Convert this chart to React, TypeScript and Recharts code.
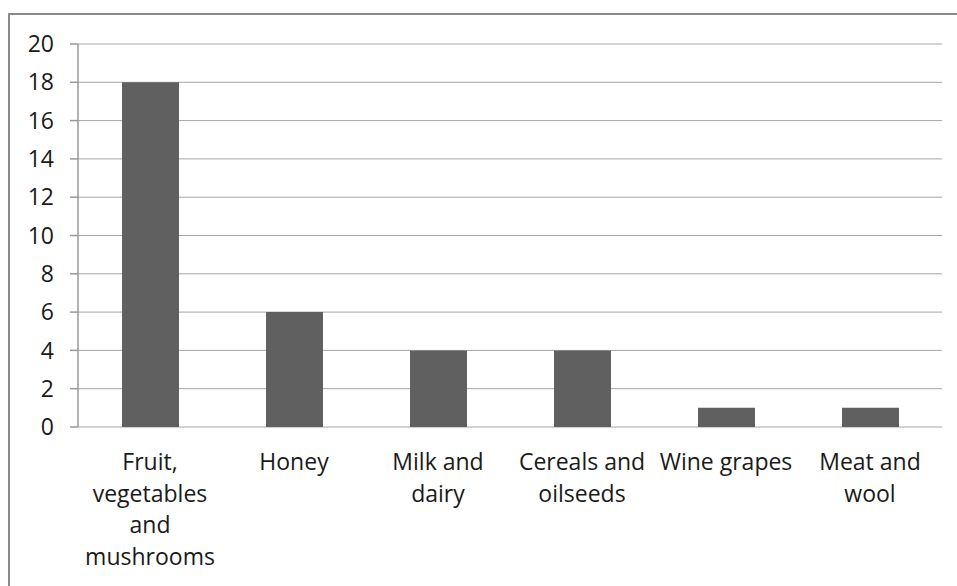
import React from "react";
import { BarChart, Bar, XAxis, YAxis, CartesianGrid } from "recharts";

const categories = [
  "Fruit,\nvegetables\nand\nmushrooms",
  "Honey",
  "Milk and\ndairy",
  "Cereals and\noilseeds",
  "Wine grapes",
  "Meat and\nwool",
];
const values = [18, 6, 4, 4, 1, 1];
const yTicks = [0, 2, 4, 6, 8, 10, 12, 14, 16, 18, 20];
const boundaryTicks = [0, 1, 2, 3, 4, 5, 6];

const data = categories.map((c, i) => ({ name: c, value: values[i] }));

const FONT = "'Open Sans', sans-serif";

const CatTick = (props: any) => {
  const { x, y, payload } = props;
  const lines = String(payload.value).split("\n");
  return (
    <text x={x} y={y} textAnchor="middle" fill="#1a1a1a" fontFamily={FONT} fontSize={23}>
      {lines.map((l, i) => (
        <tspan key={i} x={x} dy={i === 0 ? 43 : 31.6}>
          {l}
        </tspan>
      ))}
    </text>
  );
};

const EmptyTick = () => <g />;

export default function App() {
  return (
    <div style={{ position: "absolute", left: 0, top: 0, width: 957, height: 586, background: "#fff" }}>
      <div
        style={{
          position: "absolute",
          left: 8,
          top: 13,
          width: 949,
          height: 573,
          borderLeft: "2px solid #8a8a8a",
          borderTop: "2px solid #8a8a8a",
          boxSizing: "border-box",
        }}
      />
      <div style={{ position: "absolute", left: 0, top: 0 }}>
        <BarChart width={957} height={586} data={data} margin={{ top: 44, right: 15, left: 0, bottom: 0 }}>
          <CartesianGrid vertical={false} stroke="#a6a6a6" strokeWidth={1} />
          <XAxis
            xAxisId="t"
            type="number"
            domain={[0, 6]}
            ticks={boundaryTicks}
            height={0}
            tickSize={10}
            tick={EmptyTick}
            axisLine={{ stroke: "#999", strokeWidth: 1.5 }}
            tickLine={{ stroke: "#999", strokeWidth: 1.5 }}
            allowDataOverflow
          />
          <XAxis
            xAxisId="cat"
            dataKey="name"
            height={159}
            axisLine={false}
            tickLine={false}
            tickSize={0}
            tickMargin={0}
            interval={0}
            tick={CatTick}
          />
          <YAxis
            width={78}
            domain={[0, 20]}
            ticks={yTicks}
            interval={0}
            tickSize={8}
            tickMargin={16}
            axisLine={{ stroke: "#999", strokeWidth: 1.5 }}
            tickLine={{ stroke: "#999", strokeWidth: 1.5 }}
            tick={{ fill: "#1a1a1a", fontFamily: FONT, fontSize: 23 }}
          />
          <Bar xAxisId="cat" dataKey="value" fill="#606060" barSize={57} isAnimationActive={false} />
        </BarChart>
      </div>
    </div>
  );
}
